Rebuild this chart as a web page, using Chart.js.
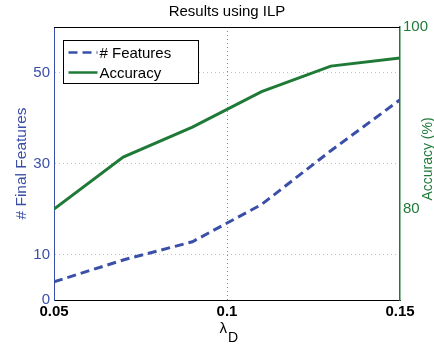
<!DOCTYPE html>
<html>
<head>
<meta charset="utf-8">
<script src="https://cdn.jsdelivr.net/npm/chart.js@4/dist/chart.umd.min.js"></script>
<style>
  html, body { margin: 0; padding: 0; background: #fff; }
  #wrap { width: 434px; height: 349px; }
</style>
</head>
<body>
<div id="wrap"><canvas id="myChart" width="434" height="349"></canvas></div>
<script>
// data
var lambdaD = [0.05, 0.07, 0.09, 0.11, 0.13, 0.15];
var nFeatures = [4.0, 8.8, 12.8, 21.0, 32.8, 44.0];
var accuracy = [80.0, 85.7, 89.0, 92.9, 95.7, 96.6];

var xTicks = [0.05, 0.1, 0.15];
var featTicks = [0, 10, 30, 50];
var accTicks = [80, 100];

var BLUE = '#3a4fa8';
var GREEN = '#1f7a38';
var FONT = '"Liberation Sans", Arial, sans-serif';

function pts(xs, ys){
  var out = [];
  for(var i=0;i<xs.length;i++){
    out.push({x: xs[i], y: ys[i]});
  }
  return out;
}

function fixTicks(list){
  return function(scale){
    scale.ticks = list.map(function(v){ return {value: v}; });
  };
}

// title, axis titles, top frame line and legend box
var extras = {
  id: 'extras',
  afterDraw: function(chart){
    var ctx = chart.ctx;
    var a = chart.chartArea;
    ctx.save();

    ctx.strokeStyle = '#000';
    ctx.lineWidth = 1;
    ctx.beginPath();
    ctx.moveTo(a.left, a.top + 0.5);
    ctx.lineTo(a.right, a.top + 0.5);
    ctx.stroke();

    ctx.fillStyle = '#000';
    ctx.font = '15px ' + FONT;
    ctx.textAlign = 'center';
    ctx.textBaseline = 'middle';
    ctx.fillText('Results using ILP', (a.left + a.right)/2, 12);

    // x title: lambda with subscript D
    ctx.font = '15px ' + FONT;
    ctx.textAlign = 'right';
    ctx.fillText('\u03bb', 227, 329);
    ctx.font = '14px ' + FONT;
    ctx.textAlign = 'left';
    ctx.fillText('D', 228, 338);

    // left title
    ctx.save();
    ctx.translate(22, (a.top + a.bottom)/2);
    ctx.rotate(-Math.PI/2);
    ctx.fillStyle = BLUE;
    ctx.font = '15.5px ' + FONT;
    ctx.textAlign = 'center';
    ctx.fillText('# Final Features', 0, 0);
    ctx.restore();

    // right title
    ctx.save();
    ctx.translate(428, 159);
    ctx.rotate(-Math.PI/2);
    ctx.fillStyle = GREEN;
    ctx.font = '14px ' + FONT;
    ctx.textAlign = 'center';
    ctx.fillText('Accuracy (%)', 0, 0);
    ctx.restore();

    // legend
    var lx = 63.5, ly = 40.5, lw = 135, lh = 43;
    ctx.fillStyle = '#fff';
    ctx.fillRect(lx, ly, lw, lh);
    ctx.strokeStyle = '#000';
    ctx.lineWidth = 1;
    ctx.strokeRect(lx, ly, lw, lh);
    var sets = chart.data.datasets;
    for(var i=0;i<sets.length;i++){
      var yy = ly + 12 + i*20;
      ctx.strokeStyle = sets[i].borderColor;
      ctx.lineWidth = 2.5;
      ctx.setLineDash(sets[i].borderDash || []);
      ctx.beginPath();
      ctx.moveTo(lx + 5, yy);
      ctx.lineTo(lx + 34, yy);
      ctx.stroke();
      ctx.setLineDash([]);
      ctx.fillStyle = '#000';
      ctx.font = '15px ' + FONT;
      ctx.textAlign = 'left';
      ctx.fillText(sets[i].label, lx + 36, yy + 1);
    }
    ctx.restore();
  }
};

var config = {
  type: 'line',
  data: {
    datasets: [
      {
        label: '# Features',
        data: pts(lambdaD, nFeatures),
        yAxisID: 'y',
        borderColor: BLUE,
        borderWidth: 3,
        borderDash: [9, 5],
        pointRadius: 0,
        fill: false,
        tension: 0
      },
      {
        label: 'Accuracy',
        data: pts(lambdaD, accuracy),
        yAxisID: 'y1',
        borderColor: GREEN,
        borderWidth: 3,
        pointRadius: 0,
        fill: false,
        tension: 0
      }
    ]
  },
  options: {
    responsive: false,
    animation: false,
    layout: { padding: { top: 27, left: 0, right: 0, bottom: 0 } },
    plugins: {
      legend: { display: false },
      title: { display: false },
      tooltip: { enabled: false }
    },
    scales: {
      x: {
        type: 'linear',
        min: 0.05,
        max: 0.15,
        afterBuildTicks: fixTicks(xTicks),
        afterFit: function(s){ s.height = 49; },
        ticks: {
          color: '#000',
          font: { family: FONT, size: 15, weight: 'bold' },
          padding: 3,
          maxRotation: 0,
          callback: function(v){ return String(v); }
        },
        grid: {
          drawTicks: false,
          lineWidth: 1,
          color: function(c){
            var v = c.tick ? c.tick.value : null;
            return (v === 0.1) ? '#888' : 'rgba(0,0,0,0)';
          }
        },
        border: { color: '#000', width: 1, dash: [1, 3] }
      },
      y: {
        position: 'left',
        min: 0,
        max: 60,
        afterBuildTicks: fixTicks(featTicks),
        afterFit: function(s){ s.width = 54; },
        ticks: {
          color: BLUE,
          font: { family: FONT, size: 15 },
          padding: 4
        },
        grid: {
          drawTicks: false,
          lineWidth: 1,
          color: function(c){
            var v = c.tick ? c.tick.value : null;
            return (v === 0) ? 'rgba(0,0,0,0)' : '#b8bfd6';
          }
        },
        border: { color: BLUE, width: 1, dash: [1, 3] }
      },
      y1: {
        position: 'right',
        min: 70,
        max: 100,
        afterBuildTicks: fixTicks(accTicks),
        afterFit: function(s){ s.width = 34; },
        ticks: {
          color: GREEN,
          font: { family: FONT, size: 15 },
          padding: 3
        },
        grid: { display: false, drawTicks: false },
        border: { color: GREEN, width: 1.5 }
      }
    }
  },
  plugins: [extras]
};

var myChart = new Chart(document.getElementById('myChart'), config);
</script>
</body>
</html>
